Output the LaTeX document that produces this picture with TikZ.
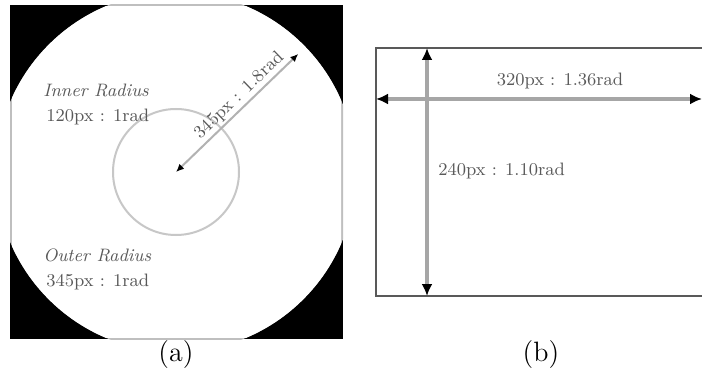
\documentclass[tikz,border=0pt]{standalone}
\usepackage{tikz}
\usetikzlibrary{arrows.meta,positioning,calc}
\tikzset{
  rdlbl/.style={font=\fontsize{9}{10}\selectfont,text=black!65,inner sep=1pt},
  rdlblit/.style={rdlbl,font=\fontsize{9}{10}\selectfont\itshape},
  rdarr/.style={{Latex[length=4pt,width=3.5pt,color=black]}-{Latex[length=4pt,width=3.5pt,color=black]},
                line width=1pt,draw=black!30},
  dimarr/.style={{Latex[length=6pt,width=5.5pt,color=black]}-{Latex[length=6pt,width=5.5pt,color=black]},
                 line width=1.6pt,draw=black!35},
  frameln/.style={line width=1pt,draw=black!65},
  subcap/.style={font=\fontsize{14}{16}\selectfont,inner sep=0pt},
}
\begin{document}
\begin{tikzpicture}[x=0.5pt,y=-0.5pt]
  \useasboundingbox (0,0) rectangle (702,374);
  % (a) field of view disk
  \coordinate (c) at (176,172);
  \fill[black] (10,5) rectangle (343,339);
  \begin{scope}
    \clip (10,5) rectangle (343,339);
    \fill[black!25] (c) circle[radius=180];
  \end{scope}
  \begin{scope}
    \clip (12,7) rectangle (341,337);
    \fill[white] (c) circle[radius=180];
  \end{scope}
  \draw[black!22,line width=1pt] (c) circle[radius=63];
  \coordinate (rim) at ($(c)+(-44:170)$);
  \draw[rdarr] (c) -- (rim) node[rdlbl,pos=0.58,sloped,above] {345px : 1.8rad};
  \node[rdlblit,anchor=west] (inl) at (41,90) {Inner Radius};
  \node[rdlbl,anchor=west] (inv) at (44,117) {120px : 1rad};
  \node[rdlblit,anchor=west] (outl) at (41,255) {Outer Radius};
  \node[rdlbl,anchor=west] (outv) at (44,282) {345px : 1rad};
  \node[subcap] (capa) at (176,355) {(a)};
  % (b) image frame
  \coordinate (tl) at (376,48);
  \coordinate (bl) at (376,296);
  \coordinate (tr) at (704,48);
  \coordinate (br) at (704,296);
  \draw[frameln] (tr) -- (tl) -- (bl) -- (br);
  \coordinate (vt) at (427,48);
  \coordinate (vb) at (427,296);
  \coordinate (hl) at (376,99);
  \coordinate (hr) at (702,99);
  \draw[dimarr] (hl) -- (hr);
  \draw[dimarr] (vt) -- (vb);
  \node[rdlbl] (wlbl) at (560,81) {320px : 1.36rad};
  \node[rdlbl,anchor=west] (hlbl) at (436,171) {240px : 1.10rad};
  \node[subcap] (capb) at (541,355) {(b)};
\end{tikzpicture}
\end{document}
